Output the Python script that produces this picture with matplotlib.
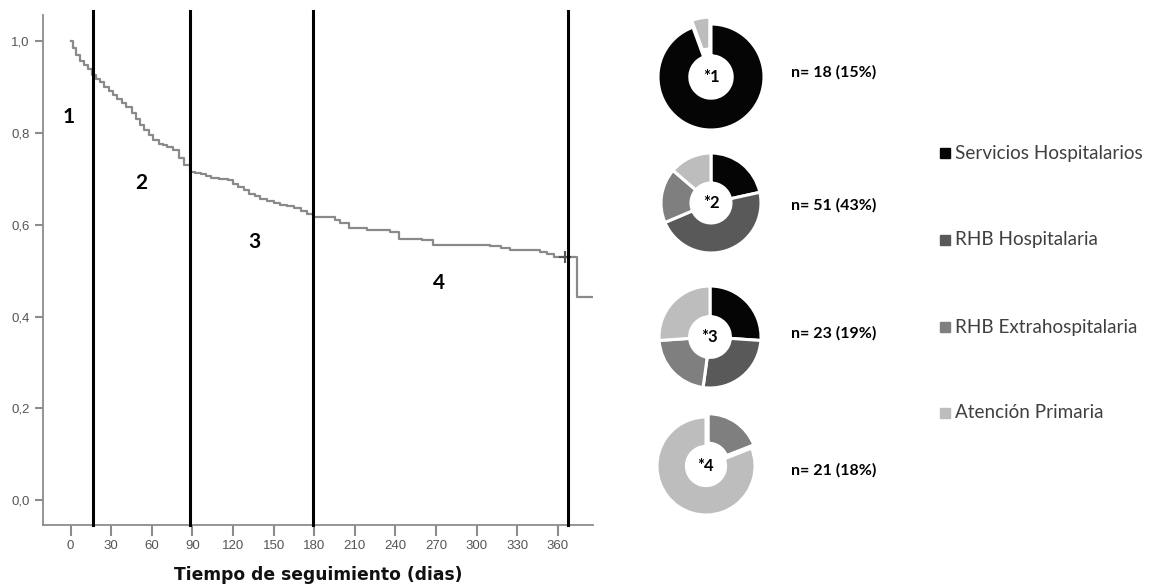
import matplotlib
matplotlib.use("Agg")
import matplotlib.pyplot as plt
from matplotlib.ticker import FuncFormatter, FixedLocator

# ---------------- data ----------------
km_days = [0, 2, 4, 7, 10, 13, 16, 19, 22, 25, 28, 31, 34, 38, 41, 45, 48, 51, 54,
           58, 61, 65, 68, 71, 76, 80, 84, 88, 92, 96, 100, 104, 110, 116, 120, 124,
           128, 132, 136, 140, 145, 150, 155, 160, 165, 170, 175, 179, 195, 199, 206,
           219, 236, 243, 260, 268, 310, 318, 325, 347, 352, 357, 374, 385]
km_surv = [1.000, 0.985, 0.970, 0.957, 0.948, 0.940, 0.926, 0.918, 0.910, 0.900,
           0.891, 0.883, 0.875, 0.866, 0.857, 0.843, 0.830, 0.818, 0.806, 0.795,
           0.784, 0.777, 0.773, 0.770, 0.763, 0.745, 0.730, 0.716, 0.713, 0.711,
           0.706, 0.703, 0.699, 0.697, 0.688, 0.682, 0.676, 0.668, 0.663, 0.656,
           0.651, 0.647, 0.644, 0.640, 0.636, 0.631, 0.624, 0.617, 0.610, 0.603,
           0.592, 0.588, 0.585, 0.570, 0.566, 0.556, 0.554, 0.549, 0.545, 0.541,
           0.536, 0.530, 0.443, 0.443]
censor_day = [365]
censor_surv = [0.530]

period_cuts = [16.5, 88.5, 179, 367.5]
period_labels = ["1", "2", "3", "4"]
period_label_x = [-1.3, 52.3, 135.5, 271.9]
period_label_y = [0.834, 0.691, 0.562, 0.473]

x_ticks = [0, 30, 60, 90, 120, 150, 180, 210, 240, 270, 300, 330, 360]
y_ticks = [0.0, 0.2, 0.4, 0.6, 0.8, 1.0]
x_label = "Tiempo de seguimiento (dias)"

categories = ["Servicios Hospitalarios", "RHB Hospitalaria",
              "RHB Extrahospitalaria", "Atención Primaria"]
cat_colors = ["#050505", "#595959", "#7f7f7f", "#bdbdbd"]

pie_names = ["*1", "*2", "*3", "*4"]
pie_values = [
    [17, 0, 0, 1],
    [11, 24, 9, 7],
    [6, 6, 5, 6],
    [0, 0, 4, 17],
]
pie_explode = [
    [0, 0, 0, 0.13],
    [0, 0, 0, 0],
    [0, 0, 0, 0],
    [0, 0, 0.08, 0],
]
pie_texts = ["n= 18 (15%)", "n= 51 (43%)", "n= 23 (19%)", "n= 21 (18%)"]

# ---------------- figure ----------------
W, H = 1151, 587
fig = plt.figure(figsize=(W / 100, H / 100), dpi=100)
fig.patch.set_facecolor("white")


def px_rect(x0, y0, x1, y1):
    return [x0 / W, 1 - y1 / H, (x1 - x0) / W, (y1 - y0) / H]


ax = fig.add_axes(px_rect(43, 15, 593, 525))
ax.step(km_days, km_surv, where="post", color="#8a8a8a", lw=1.6, zorder=3)
ax.plot(censor_day, censor_surv, marker="+", color="#555555", ms=8, mew=1.5,
        ls="none", zorder=4)

ax.set_xlim(-20.4, 386)
ax.set_ylim(-0.054, 1.057)

for d in period_cuts:
    ax.plot([d, d], [-0.054, 1.065], color="black", lw=2.2, clip_on=False, zorder=5)

for t, xx, yy in zip(period_labels, period_label_x, period_label_y):
    ax.text(xx, yy, t, fontsize=15, fontweight="bold", family="Lato",
            ha="center", va="center", color="black")

for s in ["top", "right"]:
    ax.spines[s].set_visible(False)
for s in ["left", "bottom"]:
    ax.spines[s].set_color("#8c8c8c")
    ax.spines[s].set_linewidth(1.3)

ax.xaxis.set_major_locator(FixedLocator(x_ticks))
ax.yaxis.set_major_locator(FixedLocator(y_ticks))
ax.yaxis.set_major_formatter(FuncFormatter(lambda v, p: f"{v:.1f}".replace(".", ",")))
ax.tick_params(axis="both", colors="#8c8c8c", width=1.5, length=6,
               labelcolor="#555555", labelsize=9.5)
ax.tick_params(axis="x", length=8, pad=3)
for lab in ax.get_xticklabels() + ax.get_yticklabels():
    lab.set_family("Liberation Sans")

ax.set_xlabel(x_label, fontsize=12.3, fontweight="bold", family="DejaVu Sans",
              labelpad=10, color="#111111")

# ---------------- donuts ----------------
centers = [(711, 77), (711, 203), (710, 337), (706, 466)]
radii = [53, 50, 51, 49]
text_y = [72, 205, 333, 470]

for (cx, cy), r, vals, expl, name, nt, ty in zip(centers, radii, pie_values,
                                                  pie_explode, pie_names,
                                                  pie_texts, text_y):
    half = r * 1.25
    pax = fig.add_axes(px_rect(cx - half, cy - half, cx + half, cy + half))
    v = [a for a in vals if a > 0]
    c = [col for a, col in zip(vals, cat_colors) if a > 0]
    e = [ex for a, ex in zip(vals, expl) if a > 0]
    pax.pie(v, colors=c, explode=e, startangle=90, counterclock=False, radius=1,
            wedgeprops=dict(width=0.6, edgecolor="white", linewidth=2.2))
    pax.set_xlim(-1.25, 1.25)
    pax.set_ylim(-1.25, 1.25)
    pax.set_aspect("equal")
    pax.axis("off")
    pax.text(0, 0, name, ha="center", va="center", fontsize=12,
             fontweight="bold", family="Lato", color="black")
    fig.text(791 / W, 1 - ty / H, nt, ha="left", va="center", fontsize=11.5,
             fontweight="bold", family="Lato", color="black")

# ---------------- legend ----------------
leg_y = [153, 240, 327, 413]
for lab, col, ly in zip(categories, cat_colors, leg_y):
    fig.patches.append(plt.Rectangle((940 / W, 1 - (ly + 5) / H), 10 / W, 10 / H,
                                     transform=fig.transFigure, color=col))
    fig.text(955 / W, 1 - ly / H, lab, ha="left", va="center", fontsize=13.6,
             family="Lato", color="#404040")

fig.savefig("out.png", dpi=100, facecolor="white")
